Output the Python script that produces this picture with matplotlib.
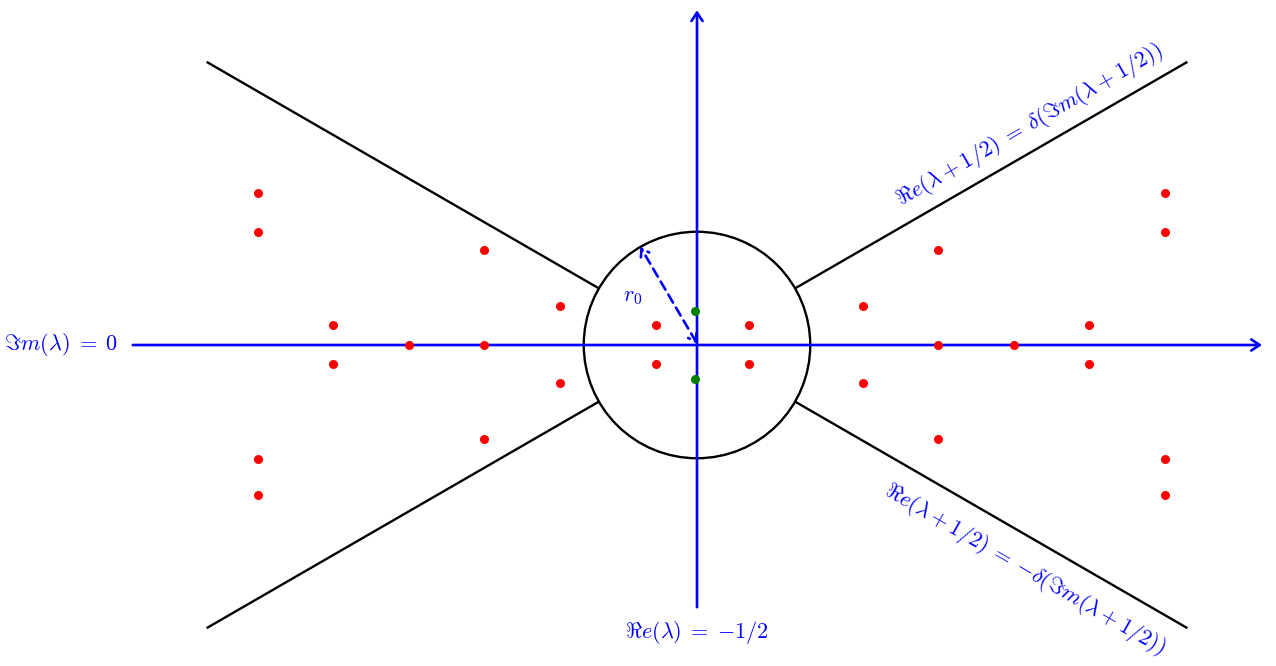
import numpy as np
import matplotlib
matplotlib.use("Agg")
import matplotlib.pyplot as plt
from matplotlib.patches import Circle, FancyArrowPatch

plt.rcParams['mathtext.fontset'] = 'cm'

# ---- data (units: center of circle at origin) ----
red_x = [-5.815, -5.815, -5.815, -5.815,
         -4.82, -4.82,
         -3.81,
         -2.82, -2.82, -2.82,
         -1.815, -1.815,
         -0.543, -0.543,
         0.689, 0.689,
         2.199, 2.199,
         3.19, 3.19, 3.19,
         4.2,
         5.19, 5.19,
         6.2, 6.2, 6.2, 6.2]
red_y = [2.013, 1.497, -1.51, -1.987,
         0.265, -0.252,
         0.0,
         1.258, 0.0, -1.245,
         0.517, -0.503,
         0.265, -0.252,
         0.265, -0.252,
         0.517, -0.503,
         1.258, 0.0, -1.245,
         0.0,
         0.265, -0.252,
         2.013, 1.497, -1.51, -1.987]
green_x = [-0.026, -0.026]
green_y = [0.45, -0.45]
r0 = 1.5
ray_angles = [30, 150, 210, 330]
ray_inner = 1.5
ray_outer = 7.5

unit = 75.5
W, H = 1276, 666
cx, cy = 697, 345

fig = plt.figure(figsize=(W / 100, H / 100), dpi=100)
ax = fig.add_axes([0, 0, 1, 1])
ax.set_xlim(-cx / unit, (W - cx) / unit)
ax.set_ylim(-(H - cy) / unit, cy / unit)
ax.axis('off')

blue = (0, 0, 1)

# rays
for a in ray_angles:
    t = np.deg2rad(a)
    ax.plot([ray_inner * np.cos(t), ray_outer * np.cos(t)],
            [ray_inner * np.sin(t), ray_outer * np.sin(t)],
            color='black', lw=1.7, solid_capstyle='butt', zorder=2)

# circle
ax.add_patch(Circle((0, 0), r0, fill=False, ec='black', lw=1.7, zorder=2))

# axes
ax.add_patch(FancyArrowPatch((-7.51, 0), (7.52, 0), arrowstyle='->,head_length=6,head_width=4',
                             color=blue, lw=1.9, mutation_scale=1, zorder=3))
ax.add_patch(FancyArrowPatch((0, -3.51), (0, 4.47), arrowstyle='->,head_length=6,head_width=4',
                             color=blue, lw=1.9, mutation_scale=1, zorder=3))

# r0 dashed arrow
t = np.deg2rad(120)
ax.add_patch(FancyArrowPatch((0, 0.02), (r0 * np.cos(t), r0 * np.sin(t)),
                             arrowstyle='<->,head_length=5,head_width=3.5',
                             color=blue, lw=1.9, linestyle=(0, (3.5, 2.2)),
                             mutation_scale=1, shrinkA=0, shrinkB=0, zorder=3))

# dots
ax.plot(red_x, red_y, 'o', color=(1, 0, 0), ms=6.5, mec='none', zorder=4)
ax.plot(green_x, green_y, 'o', color=(0, 0.5, 0), ms=6.5, mec='none', zorder=4)

fs = 16
ax.text(-0.85, 0.63, r'$r_0$', color=blue, fontsize=fs, ha='center', va='center')
ax.text(-7.67, 0, r'$\Im m(\lambda)\;=\;0$', color=blue, fontsize=fs, ha='right', va='center')
ax.text(0, -3.81, r'$\Re e(\lambda)\;=\;{-1/2}$', color=blue, fontsize=fs, ha='center', va='center')
ax.text(4.41, 2.91, r'$\Re e(\lambda\:+\:1/2)\;=\;\delta(\Im m(\lambda\:+\:1/2))$', color=blue,
        fontsize=fs, ha='center', va='center', rotation=30, rotation_mode='anchor')
ax.text(4.34, -2.98, r'$\Re e(\lambda\:+\:1/2)\;=\;{-\delta}(\Im m(\lambda\:+\:1/2))$', color=blue,
        fontsize=fs, ha='center', va='center', rotation=-30, rotation_mode='anchor')

fig.savefig('out.png', dpi=100)
